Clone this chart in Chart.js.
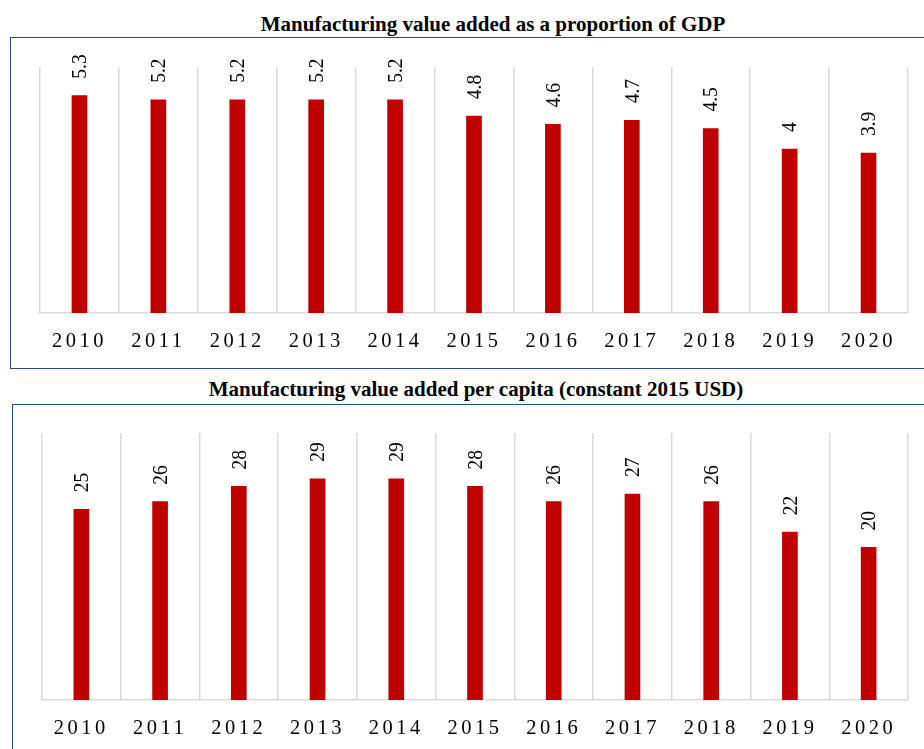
<!DOCTYPE html>
<html>
<head>
<meta charset="utf-8">
<script src="https://cdn.jsdelivr.net/npm/chart.js@4/dist/chart.umd.min.js"></script>
<style>
  html, body { margin: 0; padding: 0; background: #fff; }
  body { width: 924px; height: 749px; position: relative; overflow: hidden; }
  .title {
    position: absolute; transform: translateX(-50%); white-space: nowrap;
    font: bold 21px "Liberation Serif", "Times New Roman", serif; line-height: 21px; color: #000;
  }
  .box { position: absolute; border: 1.5px solid #2B4A84; box-sizing: border-box; }
  canvas { position: absolute; left: 0; }
</style>
</head>
<body>
<div class="title" id="t1" style="left:493px; top:14px;">Manufacturing value added as a proportion of GDP</div>
<div class="box" style="left:10px; top:37px; width:930px; height:332px;"></div>
<div class="title" id="t2" style="left:476px; top:379px;">Manufacturing value added per capita (constant 2015 USD)</div>
<div class="box" style="left:12px; top:404px; width:930px; height:360px;"></div>

<div style="position:absolute; left:0; top:37px; width:924px; height:332px;"><canvas id="c1"></canvas></div>
<div style="position:absolute; left:0; top:404px; width:924px; height:345px;"><canvas id="c2"></canvas></div>

<script>
// Years shown on both charts
const years = ['2010', '2011', '2012', '2013', '2014', '2015', '2016', '2017', '2018', '2019', '2020'];
// Manufacturing value added, % of GDP
const shareOfGdp = [5.3, 5.2, 5.2, 5.2, 5.2, 4.8, 4.6, 4.7, 4.5, 4, 3.9];
// Manufacturing value added per capita, constant 2015 USD
const perCapita = [25, 26, 28, 29, 29, 28, 26, 27, 26, 22, 20];

const BAR_RED = '#C00000';
const GRID_GREY = '#D9D9D9';
const SERIF = '"Liberation Serif", "Times New Roman", serif';

// Spaced-out category labels on the x axis, normal spacing elsewhere
const letterSpacingPlugin = {
  id: 'spacedTicks',
  beforeDraw(chart) { chart.ctx.letterSpacing = '3.5px'; },
  beforeDatasetsDraw(chart) { chart.ctx.letterSpacing = '0px'; }
};

// Vertical value labels above each bar
const barLabelPlugin = {
  id: 'barLabels',
  afterDatasetsDraw(chart) {
    const ctx = chart.ctx;
    const meta = chart.getDatasetMeta(0);
    const values = chart.data.datasets[0].data;
    ctx.save();
    ctx.fillStyle = '#000';
    ctx.font = '19.5px ' + SERIF;
    ctx.textAlign = 'left';
    ctx.textBaseline = 'middle';
    meta.data.forEach((bar, i) => {
      ctx.save();
      ctx.translate(bar.x, bar.y - 17);
      ctx.rotate(-Math.PI / 2);
      ctx.scale(1, 1.1);
      ctx.fillText(String(values[i]), 0, 1);
      ctx.restore();
    });
    ctx.restore();
  }
};

function makeChart(id, values, yMax, pad, axisHeight) {
  return new Chart(document.getElementById(id), {
    type: 'bar',
    data: {
      labels: years,
      datasets: [{
        data: values,
        backgroundColor: BAR_RED,
        borderWidth: 0,
        barThickness: 15
      }]
    },
    options: {
      responsive: true,
      maintainAspectRatio: false,
      animation: false,
      events: [],
      layout: { padding: pad },
      plugins: { legend: { display: false }, tooltip: { enabled: false }, title: { display: false } },
      scales: {
        x: {
          offset: true,
          grid: { display: true, offset: true, color: GRID_GREY, lineWidth: 1.5, drawTicks: false },
          border: { display: true, color: GRID_GREY, width: 1.5 },
          ticks: { color: '#000', font: { family: SERIF, size: 20.5 }, padding: 16, maxRotation: 0, autoSkip: false },
          afterFit(scale) { scale.height = axisHeight; }
        },
        y: {
          display: false,
          min: 0,
          max: yMax
        }
      }
    },
    plugins: [letterSpacingPlugin, barLabelPlugin]
  });
}

makeChart('c1', shareOfGdp, 6, { left: 40, right: 16, top: 30, bottom: 0 }, 56);
makeChart('c2', perCapita, 35, { left: 42, right: 16, top: 29, bottom: 0 }, 49);
</script>
</body>
</html>
